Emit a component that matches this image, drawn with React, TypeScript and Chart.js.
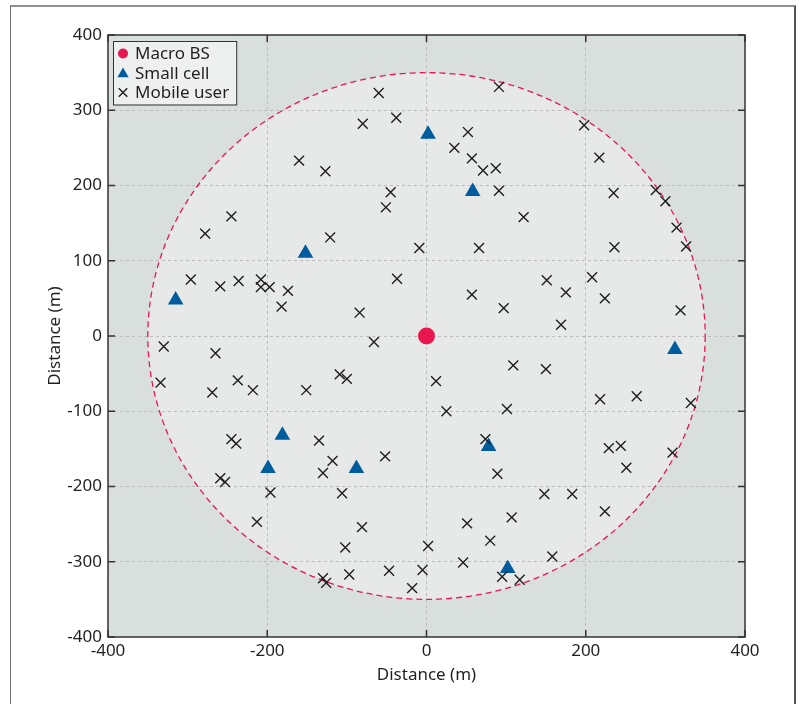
import React, { useEffect, useRef } from 'react';
import { Chart, registerables } from 'chart.js';
import { drawPoint } from 'chart.js/helpers';

Chart.register(...registerables);

// ---------- data ----------
const SERIES_LABELS = ['Macro BS', 'Small cell', 'Mobile user'];

const MACRO_X = [0];
const MACRO_Y = [0];

const SMALL_X = [-152, -315, 2, 58, -181, -199, -88, 78, 102, 312];
const SMALL_Y = [110, 48, 268, 192, -132, -176, -176, -147, -309, -18];

const USER_X = [
  -160, -245, -278, -296, -259, -236, -208, -208, -197, -174, -182,
  -60, 91, -80, -38, 52, 35, 57, 71, 87, -127, -45, -51, 91, 122, -121, -9, 66, -37, 57, 97, -84,
  198, 217, 235, 288, 300, 314, 326, 236, 151, 175, 208, 224, 169, 319,
  -330, -334, -265, -269, -237, -218, -151, -245, -239, -259, -253, -196, -213,
  -66, -109, -100, 12, 109, 25, 101, -135, -118, -130, -52, 74, 89, -106, -81, -102, 2, 51, 80, 107, 46, -130, -126, -97, -47, -5, -18, 95, 117,
  150, 218, 264, 332, 229, 244, 309, 251, 148, 183, 224, 158,
];
const USER_Y = [
  233, 159, 136, 75, 66, 73, 75, 65, 65, 60, 39,
  323, 331, 282, 290, 271, 250, 236, 220, 223, 219, 191, 171, 193, 158, 131, 117, 117, 76, 55, 37, 31,
  280, 237, 190, 194, 179, 144, 119, 118, 74, 58, 78, 50, 15, 34,
  -14, -62, -23, -75, -59, -72, -72, -137, -143, -189, -194, -208, -247,
  -8, -51, -57, -60, -39, -100, -97, -139, -166, -182, -160, -137, -183, -209, -254, -281, -279, -249, -272, -241, -301, -322, -328, -317, -312, -311, -335, -320, -324,
  -44, -84, -80, -89, -149, -146, -155, -175, -210, -210, -233, -293,
];

const X_TICKS = [-400, -200, 0, 200, 400];
const Y_TICKS = [-400, -300, -200, -100, 0, 100, 200, 300, 400];
const CELL_RADIUS = 350;
const X_TITLE = 'Distance (m)';
const Y_TITLE = 'Distance (m)';

// ---------- styles ----------
const FONT = 'Noto Sans';
const TEXT = '#231f20';
const RED = '#e8174f';
const BLUE = '#005c9c';
const CROSS = '#1e1e1e';

const toPts = (xs: number[], ys: number[]) => xs.map((x, i) => ({ x, y: ys[i] }));

const decorPlugin = {
  id: 'decor',
  beforeDraw(chart: any) {
    const { ctx, chartArea: a, scales } = chart;
    const x = scales.x, y = scales.y;
    ctx.save();
    ctx.fillStyle = '#d9dfdd';
    ctx.fillRect(a.left, a.top, a.right - a.left, a.bottom - a.top);
    const cx = x.getPixelForValue(0), cy = y.getPixelForValue(0);
    const rx = x.getPixelForValue(CELL_RADIUS) - cx;
    const ry = cy - y.getPixelForValue(CELL_RADIUS);
    ctx.beginPath();
    ctx.ellipse(cx, cy, rx, ry, 0, 0, Math.PI * 2);
    ctx.fillStyle = '#e7e9e8';
    ctx.fill();
    ctx.restore();
  },
  beforeDatasetsDraw(chart: any) {
    const { ctx, scales } = chart;
    const x = scales.x, y = scales.y;
    const cx = x.getPixelForValue(0), cy = y.getPixelForValue(0);
    const rx = x.getPixelForValue(CELL_RADIUS) - cx;
    const ry = cy - y.getPixelForValue(CELL_RADIUS);
    ctx.save();
    ctx.beginPath();
    ctx.ellipse(cx, cy, rx, ry, 0, 0, Math.PI * 2);
    ctx.setLineDash([6, 4]);
    ctx.strokeStyle = RED;
    ctx.lineWidth = 1.3;
    ctx.stroke();
    ctx.restore();
  },
  afterDraw(chart: any) {
    const { ctx, chartArea: a, scales } = chart;
    const x = scales.x, y = scales.y;
    ctx.save();
    // frame
    ctx.strokeStyle = '#333';
    ctx.lineWidth = 1.5;
    ctx.strokeRect(a.left, a.top, a.right - a.left, a.bottom - a.top);
    // inward ticks
    const TL = 7;
    ctx.beginPath();
    X_TICKS.forEach((v) => {
      const px = x.getPixelForValue(v);
      ctx.moveTo(px, a.bottom); ctx.lineTo(px, a.bottom - TL);
      ctx.moveTo(px, a.top); ctx.lineTo(px, a.top + TL);
    });
    Y_TICKS.forEach((v) => {
      const py = y.getPixelForValue(v);
      ctx.moveTo(a.left, py); ctx.lineTo(a.left + TL, py);
      ctx.moveTo(a.right, py); ctx.lineTo(a.right - TL, py);
    });
    ctx.stroke();

    // legend
    ctx.font = `17px "${FONT}"`;
    const tw = Math.max(...chart.data.datasets.map((d: any) => ctx.measureText(d.label).width));
    const lx = a.left + 5, ly = a.top + 6;
    const rowH = 19.5;
    const bw = 23 + tw + 6, bh = rowH * chart.data.datasets.length + 5;
    ctx.fillStyle = '#eef0ef';
    ctx.fillRect(lx, ly, bw, bh);
    ctx.strokeStyle = '#333';
    ctx.lineWidth = 1;
    ctx.strokeRect(lx + 0.5, ly + 0.5, bw, bh);
    chart.data.datasets.forEach((d: any, i: number) => {
      const cy = ly + 12.5 + i * rowH;
      const mx = lx + 10;
      ctx.fillStyle = d.pointBackgroundColor;
      ctx.strokeStyle = d.pointBorderColor;
      ctx.setLineDash([]);
      const r = d.pointStyle === 'circle' ? 5 : d.pointStyle === 'triangle' ? 6.5 : 6;
      ctx.lineWidth = d.pointBorderWidth;
      drawPoint(ctx, { pointStyle: d.pointStyle, radius: r, rotation: 0, borderWidth: d.pointBorderWidth }, mx, d.pointStyle === 'triangle' ? cy + 1 : cy);
      ctx.fillStyle = TEXT;
      ctx.textBaseline = 'middle';
      ctx.textAlign = 'left';
      ctx.fillText(d.label, lx + 22, cy + 1);
    });
    ctx.restore();
  },
};

export default function App() {
  const ref = useRef<HTMLCanvasElement | null>(null);

  useEffect(() => {
    if (!ref.current) return;
    const gridColor = (c: any) => (Math.abs(c.tick?.value) === 400 ? 'rgba(0,0,0,0)' : '#bcbcbc');
    const chart = new Chart(ref.current, {
      type: 'scatter',
      data: {
        datasets: [
          {
            label: SERIES_LABELS[0],
            data: toPts(MACRO_X, MACRO_Y),
            pointStyle: 'circle',
            pointRadius: 8.5,
            pointBackgroundColor: RED,
            pointBorderColor: RED,
            pointBorderWidth: 0,
            order: 0,
          },
          {
            label: SERIES_LABELS[1],
            data: toPts(SMALL_X, SMALL_Y),
            pointStyle: 'triangle',
            pointRadius: 9,
            pointBackgroundColor: BLUE,
            pointBorderColor: BLUE,
            pointBorderWidth: 0,
            order: 2,
          },
          {
            label: SERIES_LABELS[2],
            data: toPts(USER_X, USER_Y),
            pointStyle: 'crossRot',
            pointRadius: 7,
            pointBackgroundColor: CROSS,
            pointBorderColor: CROSS,
            pointBorderWidth: 1.4,
            order: 1,
          },
        ] as any,
      },
      options: {
        animation: false,
        responsive: false,
        events: [],
        layout: { padding: { left: 0, right: 58, top: 35, bottom: 0 } },
        plugins: { legend: { display: false }, tooltip: { enabled: false } },
        scales: {
          x: {
            type: 'linear',
            min: -400,
            max: 400,
            afterBuildTicks: (s: any) => { s.ticks = X_TICKS.map((v) => ({ value: v })); },
            afterFit: (s: any) => { s.height = 67; },
            grid: { color: gridColor, lineWidth: 1, drawTicks: false },
            border: { display: false, dash: [3, 3] },
            ticks: { font: { family: FONT, size: 17 }, color: TEXT, padding: 4, maxRotation: 0, autoSkip: false },
            title: { display: true, text: X_TITLE, font: { family: FONT, size: 17 }, color: TEXT, padding: { top: 0, bottom: 19 } },
          },
          y: {
            type: 'linear',
            min: -400,
            max: 400,
            afterBuildTicks: (s: any) => { s.ticks = Y_TICKS.map((v) => ({ value: v })); },
            afterFit: (s: any) => { s.width = 108; },
            grid: { color: gridColor, lineWidth: 1, drawTicks: false },
            border: { display: false, dash: [3, 3] },
            ticks: { font: { family: FONT, size: 17 }, color: TEXT, padding: 6, autoSkip: false },
            title: { display: true, text: Y_TITLE, font: { family: FONT, size: 17 }, color: TEXT, padding: { top: 45, bottom: 0 } },
          },
        },
      } as any,
      plugins: [decorPlugin],
    });
    return () => chart.destroy();
  }, []);

  return (
    <div style={{ position: 'absolute', left: 0, top: 0, width: 803, height: 704, overflow: 'hidden', background: '#fff' }}>
      <div
        style={{
          position: 'absolute', left: 10, top: 5, width: 786, height: 730, boxSizing: 'border-box',
          borderTop: '2px solid #8e8e8e', borderLeft: '1.5px solid #707070', borderRight: '2px solid #555',
        }}
      />
      <canvas ref={ref} width={803} height={704} style={{ position: 'absolute', left: 0, top: 0 }} />
    </div>
  );
}
